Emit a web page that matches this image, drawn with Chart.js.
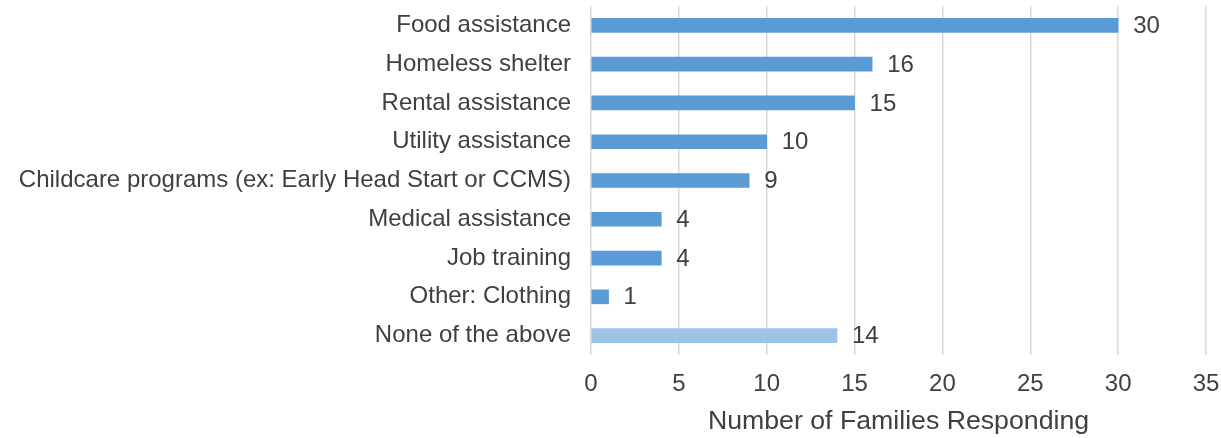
<!DOCTYPE html>
<html>
<head>
<meta charset="utf-8">
<script src="https://cdn.jsdelivr.net/npm/chart.js@4"></script>
<style>
  html, body { margin: 0; padding: 0; background: #fff; }
  #wrap { width: 1221px; height: 438px; }
</style>
</head>
<body>
<div id="wrap"><canvas id="myChart" width="1221" height="438"></canvas></div>
<script>
"use strict";

const categories = [
  "Food assistance",
  "Homeless shelter",
  "Rental assistance",
  "Utility assistance",
  "Childcare programs (ex: Early Head Start or CCMS)",
  "Medical assistance",
  "Job training",
  "Other: Clothing",
  "None of the above",
];
const families = [30, 16, 15, 10, 9, 4, 4, 1, 14];
const xTicks = [0, 5, 10, 15, 20, 25, 30, 35];

const barBlue = "#5b9bd5";
const barLight = "#9dc3e6";
const textColor = "#404040";
const fontFamily = "'Liberation Sans', Arial, sans-serif";

const ctx = document.getElementById("myChart");

// number printed just past the end of each bar
const valueLabels = {
  id: "valueLabels",
  afterDatasetsDraw(chart) {
    const c = chart.ctx;
    c.save();
    c.font = `24px ${fontFamily}`;
    c.fillStyle = textColor;
    c.textBaseline = "middle";
    c.textAlign = "left";
    chart.getDatasetMeta(0).data.forEach((bar, i) => {
      c.fillText(String(families[i]), bar.x + 15, bar.y + 1);
    });
    c.restore();
  },
};

new Chart(ctx, {
  type: "bar",
  data: {
    labels: categories,
    datasets: [
      {
        data: families,
        backgroundColor: categories.map((c, i) =>
          i === categories.length - 1 ? barLight : barBlue
        ),
        barThickness: 14,
        borderWidth: 0,
      },
    ],
  },
  options: {
    indexAxis: "y",
    responsive: false,
    animation: false,
    layout: { padding: { top: 6, right: 15, left: 0, bottom: 0 } },
    plugins: {
      legend: { display: false },
      tooltip: { enabled: false },
    },
    scales: {
      x: {
        min: 0,
        max: 35,
        afterBuildTicks(scale) {
          scale.ticks = xTicks.map((v) => ({ value: v }));
        },
        afterFit(scale) {
          scale.height = 83;
          scale.paddingLeft = 0;
          scale.paddingRight = 0;
        },
        grid: {
          color: "#d9d9d9",
          lineWidth: 1.5,
          drawTicks: false,
        },
        border: { display: false },
        ticks: {
          color: textColor,
          font: { family: fontFamily, size: 24 },
          padding: 15,
        },
        title: {
          display: true,
          text: "Number of Families Responding",
          color: textColor,
          font: { family: fontFamily, size: 26.7 },
          padding: { top: 4, bottom: 0 },
        },
      },
      y: {
        afterFit(scale) {
          scale.width = 591;
          scale.paddingTop = 0;
          scale.paddingBottom = 0;
        },
        grid: { display: false, drawTicks: false },
        border: { display: false },
        ticks: {
          color: textColor,
          font: { family: fontFamily, size: 24 },
          padding: 20,
        },
      },
    },
  },
  plugins: [valueLabels],
});
</script>
</body>
</html>
